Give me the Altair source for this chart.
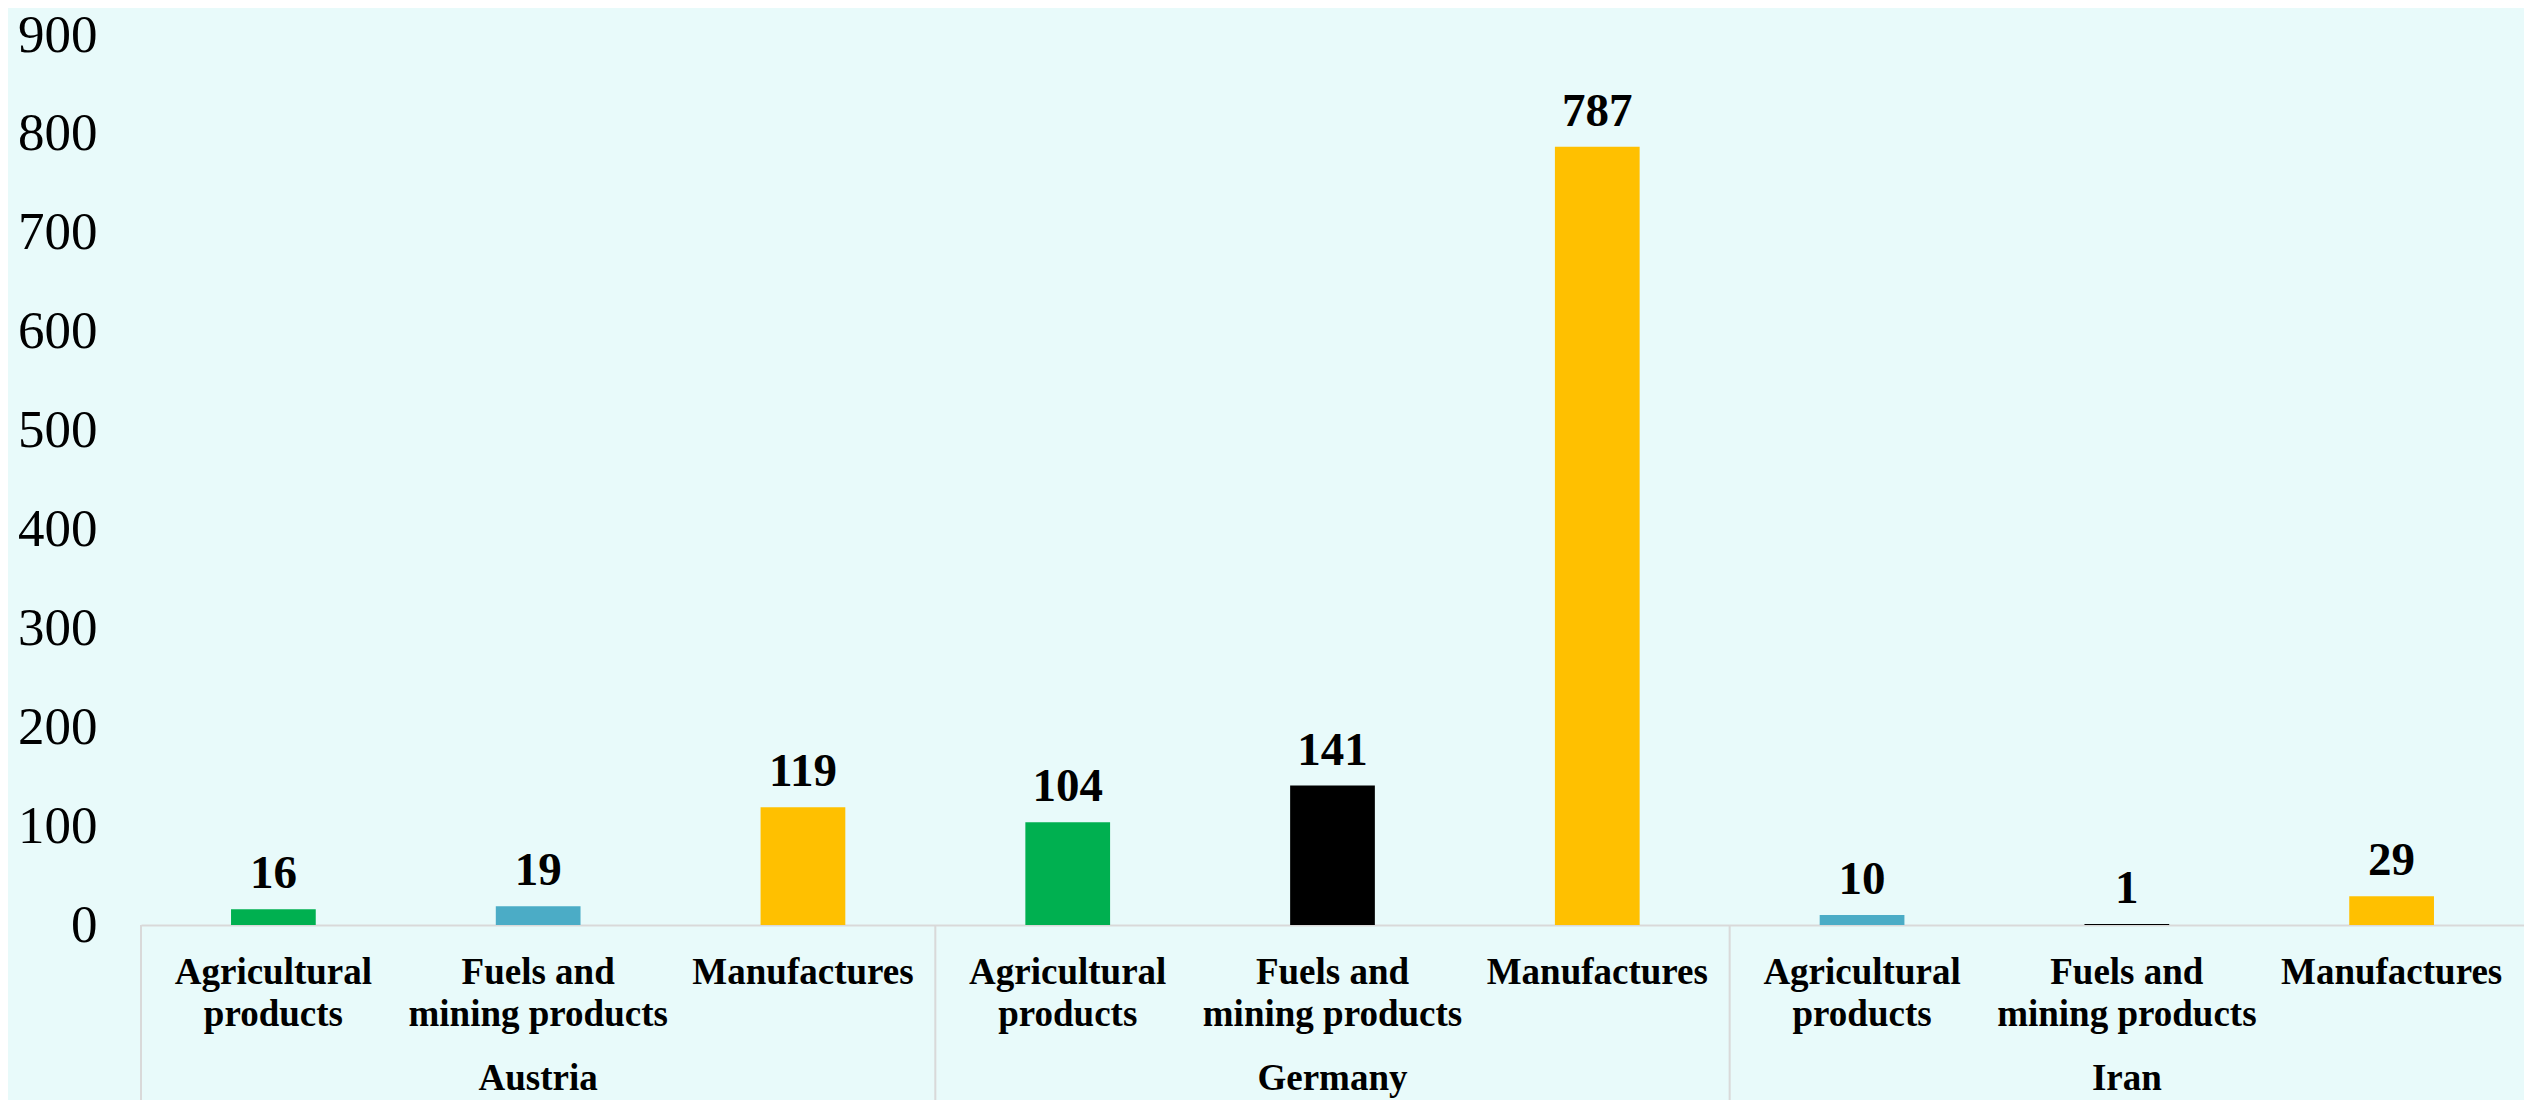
import altair as alt
import pandas as pd

countries = ["Austria", "Germany", "Iran"]
categories = ["Agricultural products", "Fuels and mining products", "Manufactures"]
category_lines = [["Agricultural", "products"], ["Fuels and", "mining products"], ["Manufactures"]]

austria_values = [16, 19, 119]
germany_values = [104, 141, 787]
iran_values = [10, 1, 29]

austria_colors = ["#00B050", "#4BACC6", "#FFC000"]
germany_colors = ["#00B050", "#000000", "#FFC000"]
iran_colors = ["#4BACC6", "#000000", "#FFC000"]

y_ticks = [0, 100, 200, 300, 400, 500, 600, 700, 800, 900]

all_values = [austria_values, germany_values, iran_values]
all_colors = [austria_colors, germany_colors, iran_colors]

rows = []
for country, vals, cols in zip(countries, all_values, all_colors):
    for i, (cat, v, c) in enumerate(zip(categories, vals, cols)):
        rows.append({"key": f"{country}|{cat}", "country": country, "category": cat,
                     "value": v, "color": c, "pos": i})
df = pd.DataFrame(rows)
keys = list(df["key"])
df_first = df[df["pos"] == 0]
df_mid = df[df["pos"] == 1]

# label expression for wrapped category names
expr = "'" + category_lines[-1][0] + "'"
for cat, lines in reversed(list(zip(categories[:-1], category_lines[:-1]))):
    arr = "[" + ", ".join("'" + l + "'" for l in lines) + "]"
    expr = f"indexof(datum.label, '{cat}') >= 0 ? {arr} : ({expr})"

FONT = "Liberation Serif"
W, H = 2383, 890

x_axis = alt.Axis(title=None, labelExpr=expr, labelAngle=0, labelFont=FONT, labelFontSize=37,
                  labelFontWeight="bold", labelColor="black", labelLineHeight=42,
                  labelPadding=29, ticks=False, tickSize=0, domainColor="#D9D9D9",
                  domainWidth=2, labelLimit=500, labelOverlap=False, grid=False)
y_axis = alt.Axis(title=None, values=y_ticks, ticks=False, tickSize=0, grid=False, domain=False,
                  labelFont=FONT, labelFontSize=53, labelColor="black", labelPadding=44)

xs = alt.Scale(paddingInner=0, paddingOuter=0)
ys = alt.Scale(domain=[0, 900], nice=False)

def xenc(**kw):
    return alt.X("key:N", sort=keys, scale=xs, axis=x_axis, **kw)

def yenc():
    return alt.Y("value:Q", scale=ys, axis=y_axis)

bars = alt.Chart(df).mark_bar(width={"band": 0.32}).encode(
    x=xenc(),
    y=yenc(),
    color=alt.Color("color:N", scale=None),
)

value_labels = alt.Chart(df).mark_text(baseline="alphabetic", dy=-21, font=FONT, fontSize=47,
                                       fontWeight="bold", color="black").encode(
    x=xenc(),
    y=yenc(),
    text=alt.Text("value:Q"),
)

separators = alt.Chart(df_first).mark_rule(color="#D9D9D9", strokeWidth=2).encode(
    x=xenc(bandPosition=0),
    y=alt.value(H),
    y2=alt.value(H + 180),
)

country_labels = alt.Chart(df_mid).mark_text(baseline="alphabetic", font=FONT, fontSize=37,
                                             fontWeight="bold", color="black").encode(
    x=xenc(),
    y=alt.value(H + 165),
    text=alt.Text("country:N"),
)

chart = alt.layer(bars, value_labels, separators, country_labels).properties(
    width=W, height=H,
    autosize=alt.AutoSizeParams(type="none"),
    padding={"left": 133, "top": 27, "right": 0, "bottom": 175},
    background="#E8FAFA",
).configure_view(strokeWidth=0)

chart.save("out.html", embed_options={"renderer": "svg", "actions": False})
